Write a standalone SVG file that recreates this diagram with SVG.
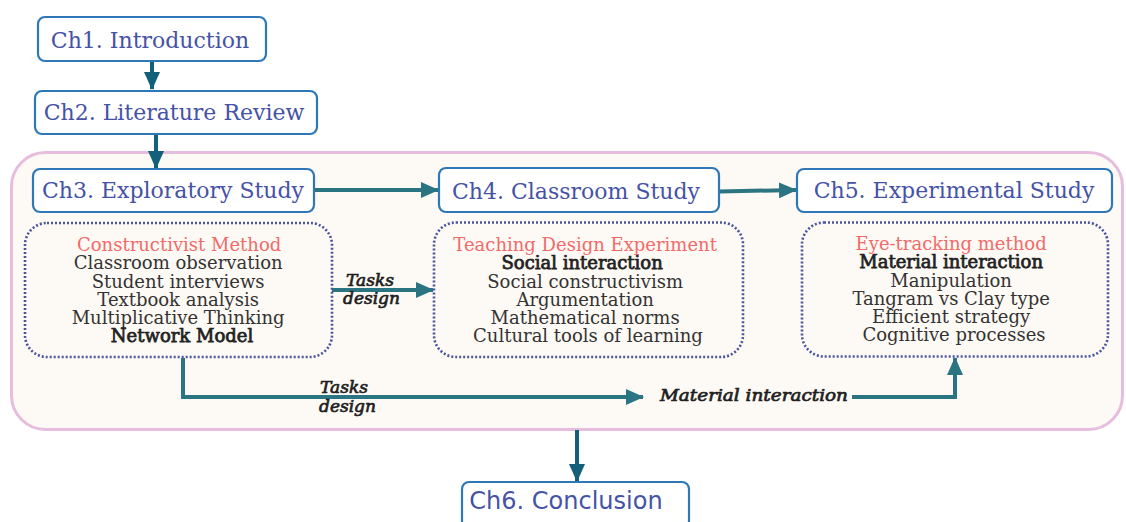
<svg xmlns="http://www.w3.org/2000/svg" width="1126" height="522" viewBox="0 0 1126 522">
  <defs>
    <marker id="headDark" viewBox="0 0 18 16" refX="17" refY="8" markerWidth="18" markerHeight="16" markerUnits="userSpaceOnUse" orient="auto">
      <path d="M0,0 L18,8 L0,16 Z" fill="#12607a"/>
    </marker>
    <marker id="headTeal" viewBox="0 0 18 16" refX="17" refY="8" markerWidth="18" markerHeight="16" markerUnits="userSpaceOnUse" orient="auto">
      <path d="M0,0 L18,8 L0,16 Z" fill="#2b7583"/>
    </marker>
  </defs>
  <style>
    .chap { fill: #ffffff; stroke: #2e78b8; stroke-width: 2.2; }
    .chapText { font-family: "DejaVu Serif", serif; font-size: 22px; fill: #4552a6; text-anchor: middle; }
    .sans { font-family: "DejaVu Sans", sans-serif; }
    .dotbox { fill: none; stroke: #4a55a0; stroke-width: 2.6; stroke-dasharray: 2 2; }
    .body { font-family: "DejaVu Serif", serif; font-size: 18px; fill: #333333; text-anchor: middle; }
    .head { fill: #f26a6a; }
    .bold { fill: #222222; stroke: #222222; stroke-width: 0.75; }
    .lbl { font-family: "DejaVu Serif", serif; font-size: 17px; font-style: italic; fill: #1e1e1e; stroke: #1e1e1e; stroke-width: 0.7; }
    .dark { fill: none; stroke: #12607a; stroke-width: 4; }
    .teal { fill: none; stroke: #2b7583; stroke-width: 4; }
  </style>

  <!-- study container -->
  <rect x="11.5" y="152.5" width="1111" height="277" rx="34" fill="#fdf9f4" stroke="#e7bddf" stroke-width="3"/>

  <!-- connectors -->
  <g id="connectors">
    <path class="dark" d="M152,61 V89" marker-end="url(#headDark)"/>
    <path class="dark" d="M156,134 V168" marker-end="url(#headDark)"/>
    <path class="teal" d="M314,190 H438" marker-end="url(#headTeal)"/>
    <path class="teal" d="M719,191.5 L796,190" marker-end="url(#headTeal)"/>
    <path class="teal" d="M332,290 H433" marker-end="url(#headTeal)"/>
    <path class="teal" d="M183,358 V397 H643" marker-end="url(#headTeal)"/>
    <path class="teal" d="M852,397 H955 V358" marker-end="url(#headTeal)"/>
    <path class="dark" d="M577,430 V481" marker-end="url(#headDark)"/>
    <text class="lbl" x="346" y="286">Tasks</text>
    <text class="lbl" x="343" y="304">design</text>
    <text class="lbl" x="320" y="393">Tasks</text>
    <text class="lbl" x="319" y="412">design</text>
    <text class="lbl" x="660" y="401" textLength="188" lengthAdjust="spacingAndGlyphs">Material interaction</text>
  </g>

  <!-- chapter nodes -->
  <g id="ch1">
    <rect class="chap" x="38" y="17" width="228" height="44" rx="7"/>
    <text class="chapText" x="150" y="48">Ch1. Introduction</text>
  </g>
  <g id="ch2">
    <rect class="chap" x="35" y="91" width="282" height="43" rx="7"/>
    <text class="chapText" x="174" y="120">Ch2. Literature Review</text>
  </g>
  <g id="ch3">
    <rect class="chap" x="33" y="169" width="281" height="43" rx="7"/>
    <text class="chapText" x="173" y="198">Ch3. Exploratory Study</text>
  </g>
  <g id="ch4">
    <rect class="chap" x="439" y="168" width="280" height="44" rx="7"/>
    <text class="chapText" x="576" y="199">Ch4. Classroom Study</text>
  </g>
  <g id="ch5">
    <rect class="chap" x="797" y="169" width="315" height="43" rx="7"/>
    <text class="chapText" x="954" y="198">Ch5. Experimental Study</text>
  </g>
  <g id="ch6">
    <rect class="chap" x="462" y="482" width="227" height="46" rx="7"/>
    <text class="chapText sans" x="566" y="509" style="font-size:24px">Ch6. Conclusion</text>
  </g>

  <!-- method boxes -->
  <g id="exploratory-methods">
    <rect class="dotbox" x="25" y="223" width="307" height="134" rx="22"/>
    <text class="body">
      <tspan class="head" x="182" y="250.5">Constructivist Method</tspan>
      <tspan x="181" y="269">Classroom observation</tspan>
      <tspan x="181" y="287.5">Student interviews</tspan>
      <tspan x="181" y="305.5">Textbook analysis</tspan>
      <tspan x="181" y="324">Multiplicative Thinking</tspan>
      <tspan class="bold" x="182" y="342">Network Model</tspan>
    </text>
  </g>
  <g id="classroom-methods">
    <rect class="dotbox" x="434" y="222.5" width="309" height="134.5" rx="22"/>
    <text class="body">
      <tspan class="head" x="588" y="250.5">Teaching Design Experiment</tspan>
      <tspan class="bold" x="585" y="268.5">Social interaction</tspan>
      <tspan x="588" y="287.5">Social constructivism</tspan>
      <tspan x="588" y="305.5">Argumentation</tspan>
      <tspan x="588" y="323.5">Mathematical norms</tspan>
      <tspan x="588" y="342">Cultural tools of learning</tspan>
    </text>
  </g>
  <g id="experimental-methods">
    <rect class="dotbox" x="802" y="222.5" width="306" height="134" rx="22"/>
    <text class="body">
      <tspan class="head" x="954" y="249.5">Eye-tracking method</tspan>
      <tspan class="bold" x="954" y="267.5">Material interaction</tspan>
      <tspan x="954" y="286.5">Manipulation</tspan>
      <tspan x="954" y="304.5">Tangram vs Clay type</tspan>
      <tspan x="954" y="322.5">Efficient strategy</tspan>
      <tspan x="954" y="341">Cognitive processes</tspan>
    </text>
  </g>
</svg>
